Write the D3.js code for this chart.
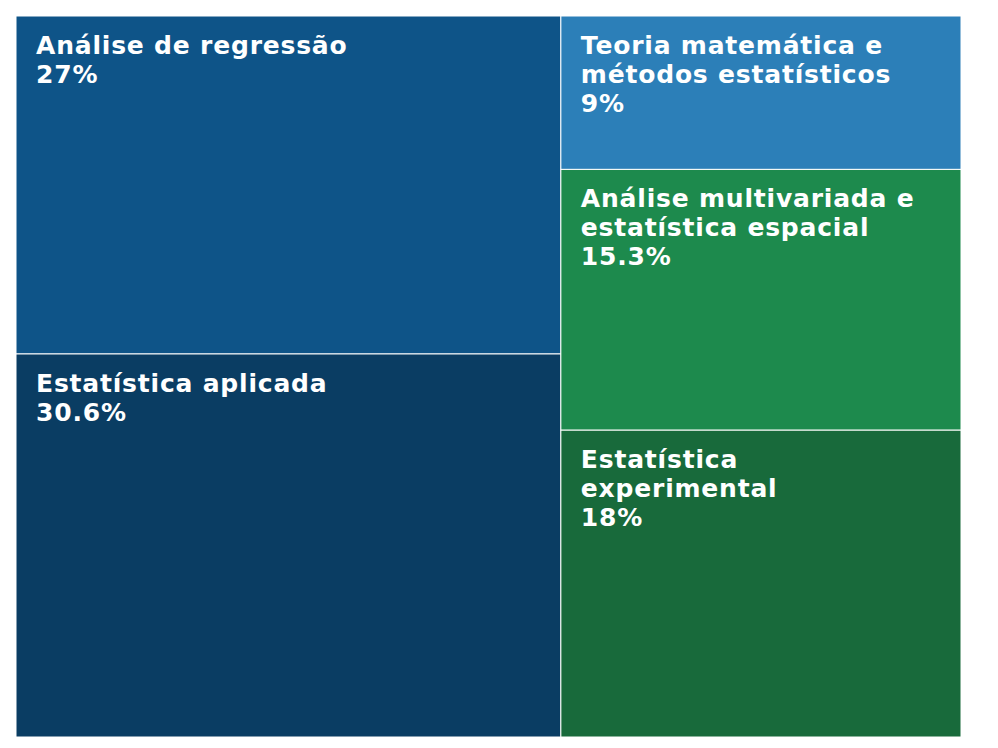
<!DOCTYPE HTML>
<head>
    <script src="https://cdn.jsdelivr.net/npm/d3@7/dist/d3.min.js"></script>
</head>

<body style="margin:0">
    <svg width="998" height="748"></svg>
</body>

<style>
.cell text {
    font-family: "DejaVu Sans", Verdana, sans-serif;
    font-weight: bold;
    font-size: 25px;
    letter-spacing: 0.8px;
    fill: white;
}
</style>

<script>
    // data, in the order the chart was built
    var categories = [
        "Análise de regressão",
        "Estatística aplicada",
        "Teoria matemática e métodos estatísticos",
        "Análise multivariada e estatística espacial",
        "Estatística experimental"
    ];
    var shares = [27, 30.6, 9, 15.3, 18];
    var labelLines = [
        ["Análise de regressão"],
        ["Estatística aplicada"],
        ["Teoria matemática e", "métodos estatísticos"],
        ["Análise multivariada e", "estatística espacial"],
        ["Estatística", "experimental"]
    ];
    var colors = ["#0e5488", "#0a3d63", "#2c7fb8", "#1d8a4d", "#186a3b"];

    var svg = d3.select("svg"),
        margin = {top: 16, right: 37, bottom: 11, left: 16},
        width = +svg.attr("width") - margin.left - margin.right,
        height = +svg.attr("height") - margin.top - margin.bottom;

    var data = categories.map(function(c, i) {
        return {name: c, value: shares[i], lines: labelLines[i], color: colors[i]};
    });

    var root = d3.hierarchy({children: data}).sum(function(d) { return d.value || 0; });

    d3.treemap()
        .tile(d3.treemapSquarify.ratio(1))
        .size([width, height])
        .round(false)(root);

    var g = svg.append("g")
        .attr("transform", "translate(" + margin.left + "," + margin.top + ")");

    var cell = g.selectAll(".cell")
        .data(root.leaves())
        .enter().append("g")
        .attr("class", "cell")
        .attr("transform", function(d) { return "translate(" + d.x0 + "," + d.y0 + ")"; });

    cell.append("rect")
        .attr("width", function(d) { return d.x1 - d.x0; })
        .attr("height", function(d) { return d.y1 - d.y0; })
        .attr("fill", function(d) { return d.data.color; })
        .attr("stroke", "white")
        .attr("stroke-width", 1);

    var txt = cell.append("text")
        .attr("x", 20)
        .attr("y", 38);

    txt.selectAll("tspan")
        .data(function(d) { return d.data.lines.concat([d.data.value + "%"]); })
        .enter().append("tspan")
        .attr("x", 20)
        .attr("dy", function(d, i) { return i ? 29 : 0; })
        .text(function(d) { return d; });
</script>
